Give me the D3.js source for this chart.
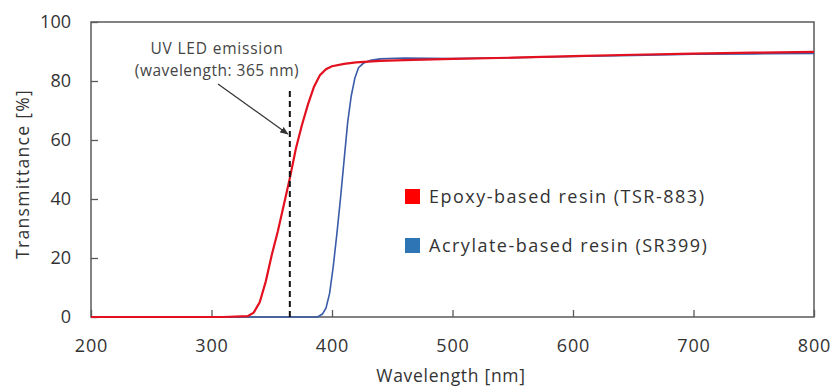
<!DOCTYPE html>
<html>
<head>
<meta charset="utf-8">
<script src="https://cdn.jsdelivr.net/npm/d3@7"></script>
<style>
  body { margin: 0; background: #fff; }
  text { font-family: "Open Sans", "Noto Sans", sans-serif; }
</style>
</head>
<body>
<div id="chart"></div>
<script>
// wavelength [nm] / transmittance [%]
const epoxyWl = [200, 310, 330, 335, 340, 345, 350, 355, 360, 365, 370, 375, 380, 385, 390, 395, 400, 410, 420, 440, 460, 500, 550, 600, 650, 700, 750, 800];
const epoxyT  = [0, 0, 0.3, 1.5, 5, 12, 21, 29, 38, 47, 57, 65, 72, 78, 82, 84, 85, 85.8, 86.3, 86.8, 87.1, 87.5, 87.9, 88.4, 88.9, 89.3, 89.6, 89.9];

const acrylWl = [200, 388, 392, 395, 398, 401, 404, 407, 410, 413, 416, 419, 422, 426, 432, 440, 460, 500, 550, 600, 650, 700, 750, 800];
const acrylT  = [0, 0, 1, 3, 8, 17, 28, 40, 53, 66, 75, 81, 84.5, 86, 87, 87.5, 87.8, 87.6, 87.9, 88.3, 88.7, 89.1, 89.2, 89.3];

const seriesNames = ["Epoxy-based resin (TSR-883)", "Acrylate-based resin (SR399)"];
const xTicks = [200, 300, 400, 500, 600, 700, 800];
const yTicks = [0, 20, 40, 60, 80, 100];
const ledWl = 365;

const width = 832, height = 387;
const margin = { top: 22, right: 18, bottom: 70, left: 91 };
const w = width - margin.left - margin.right;
const h = height - margin.top - margin.bottom;

const svg = d3.select("#chart").append("svg")
    .attr("width", width)
    .attr("height", height);

const g = svg.append("g").attr("transform", `translate(${margin.left},${margin.top})`);

const x = d3.scaleLinear().domain([200, 800]).range([0, w]);
const y = d3.scaleLinear().domain([0, 100]).range([h, 0]);

// axes, ticks pointing inward
const yAxis = g.append("g")
    .call(d3.axisLeft(y).tickValues(yTicks).tickSizeInner(-7).tickSizeOuter(0).tickPadding(20));
const xAxis = g.append("g")
    .attr("transform", `translate(0,${h})`)
    .call(d3.axisBottom(x).tickValues(xTicks).tickSizeInner(-7).tickSizeOuter(0).tickPadding(22));

[yAxis, xAxis].forEach(a => {
  a.select(".domain").remove();
  a.selectAll(".tick line").attr("stroke", "#595959").attr("stroke-width", 1.3);
  a.selectAll(".tick text").attr("font-size", 18).attr("fill", "#333")
      .style("font-family", "'Open Sans', 'Noto Sans', sans-serif");
});
xAxis.selectAll(".tick text").attr("letter-spacing", 0.8);

// frame
g.append("rect")
    .attr("width", w).attr("height", h)
    .attr("fill", "none")
    .attr("stroke", "#595959")
    .attr("stroke-width", 1.5);

const line = d3.line().x(d => x(d[0])).y(d => y(d[1]));

g.append("path")
    .datum(d3.zip(acrylWl, acrylT))
    .attr("fill", "none")
    .attr("stroke", "#3a5ba8")
    .attr("stroke-width", 1.6)
    .attr("d", line);

g.append("path")
    .datum(d3.zip(epoxyWl, epoxyT))
    .attr("fill", "none")
    .attr("stroke", "#e3111f")
    .attr("stroke-width", 2.2)
    .attr("d", line);

// UV LED line
g.append("line")
    .attr("x1", x(ledWl)).attr("x2", x(ledWl))
    .attr("y1", y(0)).attr("y2", y(77))
    .attr("stroke", "#111")
    .attr("stroke-width", 2)
    .attr("stroke-dasharray", "6,4");

// annotation
svg.append("defs").append("marker")
    .attr("id", "arrow")
    .attr("viewBox", "0 0 10 10")
    .attr("refX", 9).attr("refY", 5)
    .attr("markerWidth", 7).attr("markerHeight", 7)
    .attr("orient", "auto")
  .append("path")
    .attr("d", "M0,1 L10,5 L0,9 z")
    .attr("fill", "#333");

g.append("line")
    .attr("x1", 218 - margin.left).attr("y1", 84 - margin.top)
    .attr("x2", x(ledWl) - 2).attr("y2", y(62))
    .attr("stroke", "#333")
    .attr("stroke-width", 1.2)
    .attr("marker-end", "url(#arrow)");

const ann = g.append("text")
    .attr("text-anchor", "middle")
    .attr("font-size", 15.5)
    .attr("letter-spacing", 0.5)
    .attr("fill", "#444");
ann.append("tspan").attr("x", 217 - margin.left).attr("y", 54 - margin.top)
    .attr("letter-spacing", 0.8).text("UV LED emission");
ann.append("tspan").attr("x", 217 - margin.left).attr("y", 76 - margin.top).text("(wavelength: 365 nm)");

// legend
const legend = svg.append("g").attr("transform", "translate(405,189)");
const legColors = ["#ff0000", "#2e75b6"];
seriesNames.forEach((name, i) => {
  const row = legend.append("g").attr("transform", `translate(0,${i * 49})`);
  row.append("rect").attr("width", 15).attr("height", 15).attr("fill", legColors[i]);
  row.append("text")
      .attr("x", 24).attr("y", 7.5)
      .attr("dy", "0.36em")
      .attr("font-size", 18)
      .attr("letter-spacing", 1.5)
      .attr("fill", "#333")
      .text(name);
});

// axis titles
svg.append("text")
    .attr("x", 451).attr("y", 382)
    .attr("text-anchor", "middle")
    .attr("font-size", 17.5)
    .attr("letter-spacing", 0.7)
    .attr("fill", "#333")
    .text("Wavelength [nm]");

svg.append("text")
    .attr("transform", "translate(29,174) rotate(-90)")
    .attr("text-anchor", "middle")
    .attr("font-size", 17.5)
    .attr("letter-spacing", 1.3)
    .attr("fill", "#333")
    .text("Transmittance  [%]");
</script>
</body>
</html>
